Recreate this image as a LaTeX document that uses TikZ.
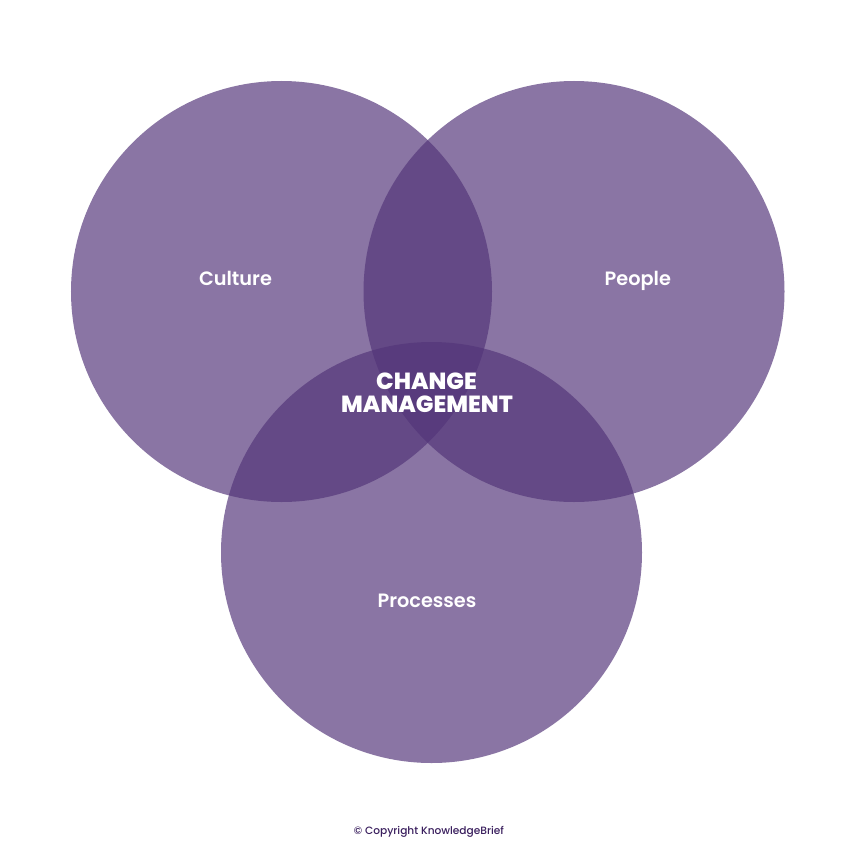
\documentclass[tikz,border=0pt]{standalone}
\usepackage{fontspec}
\setmainfont{Poppins}
\newfontfamily\labfont{Poppins SemiBold}
\newfontfamily\corefont{Poppins ExtraBold}
\newfontfamily\copyfont{Poppins Medium}
\definecolor{venn}{HTML}{533579}
\definecolor{copy}{HTML}{3A1F5E}
\tikzset{
  venncircle/.style={circle,fill=venn,fill opacity=0.68,draw=none,minimum size=421bp,inner sep=0pt,outer sep=0pt},
  lab/.style={text=white,font=\fontsize{19.3bp}{22bp}\selectfont\labfont,inner sep=0pt,anchor=base},
  core/.style={text=white,font=\fontsize{23.3bp}{23bp}\selectfont\corefont,inner sep=0pt,anchor=base}
}
\begin{document}
\begin{tikzpicture}[x=1bp,y=-1bp]
\useasboundingbox (0,0) rectangle (858,859);
\fill[white] (0,0) rectangle (858,859);
\node[venncircle] (culture) at (281.5,291.5) {};
\node[venncircle] (people) at (574,291.5) {};
\node[venncircle] (processes) at (431.5,552.5) {};
\node[lab] (t1) at (235.5,285.5) {Culture};
\node[lab] (t2) at (637.8,285.5) {People};
\node[lab] (t3) at (427,607.5) {Processes};
\node[core] (t4) at (426.5,389) {CHANGE};
\node[core] (t6) at (427,412) {MANAGEMENT};
\node[text=copy,font=\fontsize{10.6bp}{12bp}\selectfont\copyfont,inner sep=0pt,anchor=base] (t5) at (429,834) {© Copyright KnowledgeBrief};
\end{tikzpicture}
\end{document}
